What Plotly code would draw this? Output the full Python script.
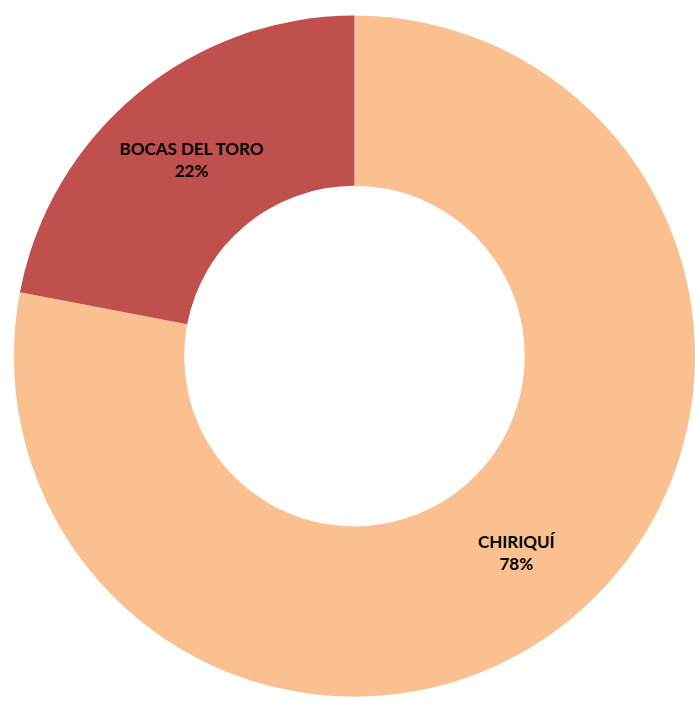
import plotly.graph_objects as go

labels = ["CHIRIQUÍ", "BOCAS DEL TORO"]
values = [78, 22]
colors = ["#FAC090", "#C0504D"]

fig = go.Figure(go.Pie(
    labels=labels,
    values=values,
    hole=0.5,
    sort=False,
    direction="clockwise",
    rotation=0,
    marker=dict(colors=colors, line=dict(width=0)),
    textinfo="label+percent",
    texttemplate="%{label}<br>%{percent:.0%}",
    textposition="inside",
    insidetextorientation="horizontal",
    textfont=dict(family="Lato", size=17, color="#000000", weight="bold"),
    domain=dict(x=[0.02, 1.0], y=[0.0, 0.984]),
    showlegend=False,
    hoverinfo="label+percent",
))

fig.update_layout(
    width=695,
    height=701,
    margin=dict(l=0, r=0, t=0, b=0),
    paper_bgcolor="white",
    plot_bgcolor="white",
    showlegend=False,
)

fig.write_html(
    "out.html",
    config={"displayModeBar": False},
    post_script="document.body.style.margin='0';document.body.style.overflow='hidden';",
)
